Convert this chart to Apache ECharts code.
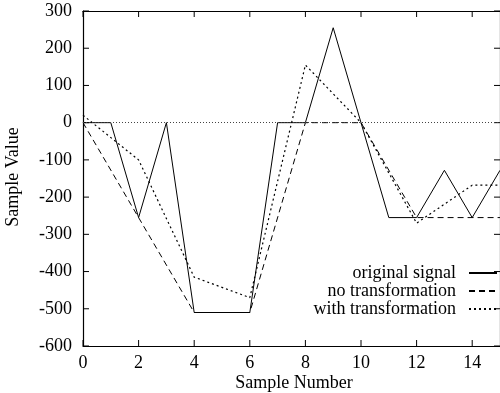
<!DOCTYPE html>
<html>
<head>
<meta charset="utf-8">
<script src="https://cdn.jsdelivr.net/npm/echarts@6/dist/echarts.min.js"></script>
<style>html,body{margin:0;padding:0;background:#fff}#c{width:500px;height:393px}</style>
</head>
<body>
<div id="c"></div>
<script>
var seriesNames = ['original signal', 'no transformation', 'with transformation'];
var originalSignal = [[0,0],[1,0],[2,-255],[3,0],[4,-510],[6,-510],[7,0],[8,0],[9,255],[11,-255],[12,-255],[13,-128],[14,-255],[15,-128]];
var noTransformation = [[0,0],[2,-255],[4,-510],[6,-510],[8,0],[10,0],[12,-255],[15,-255]];
var withTransformation = [[0,20],[2,-100],[4,-415],[6,-470],[8,155],[10,0],[12,-270],[14,-168],[15,-168]];
var xTickValues = [0, 2, 4, 6, 8, 10, 12, 14];
var yTickValues = [-600, -500, -400, -300, -200, -100, 0, 100, 200, 300];
var xTitle = 'Sample Number';
var yTitle = 'Sample Value';

var X_MIN = 0, X_MAX = 15, Y_MIN = -600, Y_MAX = 300;
var TICK = 6;
var font = 'Liberation Serif';
var chart = echarts.init(document.getElementById('c'), null, {renderer: 'canvas'});
function axLine() { return {show: true, onZero: false, lineStyle: {color: '#000', width: 1.2}}; }
function legendFor(name, top) {
  return {
    data: [name], orient: 'horizontal', align: 'right', right: 2, top: top,
    itemWidth: 28, itemHeight: 12, padding: 0,
    itemStyle: {opacity: 0},
    textStyle: {fontFamily: font, fontSize: 18, color: '#000', padding: [0, 8, 0, 0]},
    selectedMode: false
  };
}
function tickLine(x1, y1, x2, y2) {
  return {type: 'line', shape: {x1: x1, y1: y1, x2: x2, y2: y2}, style: {stroke: '#000', lineWidth: 1}};
}
chart.setOption({
  animation: false,
  backgroundColor: '#fff',
  grid: {left: 83, top: 11, width: 419, height: 335},
  legend: [legendFor(seriesNames[0], 264), legendFor(seriesNames[1], 282), legendFor(seriesNames[2], 300)],
  xAxis: [
    {type: 'value', min: X_MIN, max: X_MAX, interval: 2, position: 'bottom',
     axisLine: axLine(), axisTick: {show: false}, splitLine: {show: false},
     axisLabel: {fontFamily: font, fontSize: 18, color: '#000', margin: 8, showMaxLabel: false}},
    {type: 'value', min: X_MIN, max: X_MAX, interval: 2, position: 'top',
     axisLine: axLine(), axisTick: {show: false}, splitLine: {show: false}, axisLabel: {show: false}}
  ],
  yAxis: [
    {type: 'value', min: Y_MIN, max: Y_MAX, interval: 100, position: 'left',
     axisLine: axLine(), axisTick: {show: false}, splitLine: {show: false},
     axisLabel: {fontFamily: font, fontSize: 18, color: '#000', margin: 11}},
    {type: 'value', min: Y_MIN, max: Y_MAX, interval: 100, position: 'right',
     axisLine: axLine(), axisTick: {show: false}, splitLine: {show: false}, axisLabel: {show: false}}
  ],
  graphic: [
    {type: 'text', x: 294, y: 383, style: {text: xTitle, align: 'center', verticalAlign: 'middle', font: '18px "Liberation Serif"', fill: '#000'}},
    {type: 'text', x: 13, y: 177, rotation: Math.PI / 2, style: {text: yTitle, align: 'center', verticalAlign: 'middle', font: '18px "Liberation Serif"', fill: '#000'}}
  ],
  series: [
    {name: seriesNames[0], type: 'line', data: originalSignal, symbol: 'none', color: '#000',
     lineStyle: {color: '#000', width: 1, type: 'solid'},
     markLine: {silent: true, symbol: 'none', label: {show: false},
       lineStyle: {color: '#444', width: 1, type: [1, 2]}, data: [{yAxis: 0}]}},
    {name: seriesNames[1], type: 'line', data: noTransformation, symbol: 'none', color: '#000',
     lineStyle: {color: '#000', width: 1, type: [6, 4]}},
    {name: seriesNames[2], type: 'line', data: withTransformation, symbol: 'none', color: '#000',
     lineStyle: {color: '#000', width: 1.2, type: [2, 3]}},
    {name: 'xticks', type: 'custom', silent: true, clip: false,
     data: xTickValues.map(function (v) { return [v, Y_MIN]; }),
     renderItem: function (params, api) {
       var b = api.coord([api.value(0), Y_MIN]);
       var t = api.coord([api.value(0), Y_MAX]);
       return {type: 'group', children: [tickLine(b[0], b[1], b[0], b[1] - TICK), tickLine(t[0], t[1], t[0], t[1] + TICK)]};
     }},
    {name: 'yticks', type: 'custom', silent: true, clip: false,
     data: yTickValues.map(function (v) { return [X_MIN, v]; }),
     renderItem: function (params, api) {
       var l = api.coord([X_MIN, api.value(1)]);
       var r = api.coord([X_MAX, api.value(1)]);
       return {type: 'group', children: [tickLine(l[0], l[1], l[0] + TICK, l[1]), tickLine(r[0], r[1], r[0] - TICK, r[1])]};
     }}
  ]
});
</script>
</body>
</html>
